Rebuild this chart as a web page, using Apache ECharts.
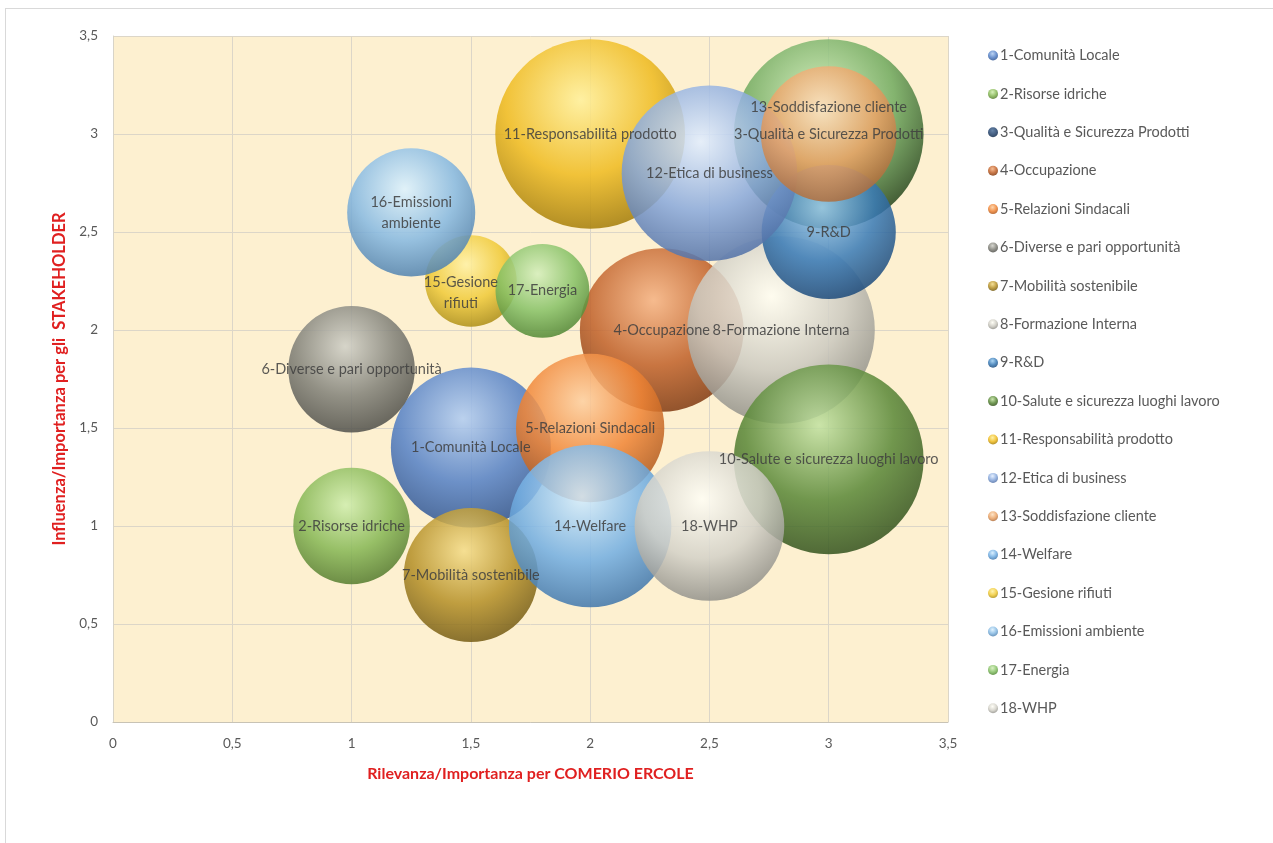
<!DOCTYPE html>
<html>
<head>
<meta charset="utf-8">
<script src="https://cdn.jsdelivr.net/npm/echarts@6/dist/echarts.min.js"></script>
<style>
html,body{margin:0;padding:0;background:#fff;}
#frame{position:absolute;left:5px;top:8px;width:1280px;height:850px;border-top:1px solid #d9d9d9;border-left:1px solid #d9d9d9;}
#chart{position:absolute;left:0;top:0;width:1273px;height:843px;}
</style>
</head>
<body>
<div id="frame"></div>
<div id="chart"></div>
<script>
// Topics
const names = [
  '1-Comunità Locale','2-Risorse idriche','3-Qualità e Sicurezza Prodotti','4-Occupazione',
  '5-Relazioni Sindacali','6-Diverse e pari opportunità','7-Mobilità sostenibile','8-Formazione Interna',
  '9-R&D','10-Salute e sicurezza luoghi lavoro','11-Responsabilità prodotto','12-Etica di business',
  '13-Soddisfazione cliente','14-Welfare','15-Gesione rifiuti','16-Emissioni ambiente','17-Energia','18-WHP'
];
const labelNames = [
  '1-Comunità Locale','2-Risorse idriche','3-Qualità e Sicurezza Prodotti','4-Occupazione',
  '5-Relazioni Sindacali','6-Diverse e pari opportunità','7-Mobilità sostenibile','8-Formazione Interna',
  '9-R&D','10-Salute e sicurezza luoghi lavoro','11-Responsabilità prodotto','12-Etica di business',
  '13-Soddisfazione cliente','14-Welfare','15-Gesione\nrifiuti','16-Emissioni\nambiente','17-Energia','18-WHP'
];
// Rilevanza per COMERIO ERCOLE (x)
const rilevanza = [1.5, 1, 3, 2.3, 2, 1, 1.5, 2.8, 3, 3, 2, 2.5, 3, 2, 1.5, 1.25, 1.8, 2.5];
// Influenza per gli STAKEHOLDER (y)
const influenza = [1.4, 1, 3, 2, 1.5, 1.8, 0.75, 2, 2.5, 1.34, 3, 2.8, 3, 1, 2.25, 2.6, 2.2, 1];
// Bubble size values
const sizes = [64, 34, 90, 67, 55, 40, 45, 88, 45, 90, 90, 77, 46, 66, 21, 41, 22, 56];
// Tick labels
const ticks = [0, 0.5, 1, 1.5, 2, 2.5, 3, 3.5];

const palette = [
  ['#b0ccf2','#5581c6','#2b4f8a'], // 1
  ['#d0eeae','#86b755','#4f752a'], // 2
  ['#4d6f99','#27466f','#132a48'], // 3 (legend)
  ['#f5b283','#c0612a','#7a360f'], // 4
  ['#fdcfa0','#f08536','#a55118'], // 5
  ['#d0d0c8','#818179','#4a4a45'], // 6
  ['#f4dc88','#b59028','#6e5612'], // 7
  ['#fffef4','#cbc9c0','#87867f'], // 8
  ['#9fcff2','#3a7bb6','#1a4574'], // 9
  ['#c2e2a2','#5a8838','#304d1b'], // 10
  ['#fff09a','#efbb20','#9c7606'], // 11
  ['#e2eeff','#89a9dc','#4d6ca2'], // 12
  ['#fde0bf','#eaa366','#a66637'], // 13
  ['#d5eeff','#72aee2','#3b70a5'], // 14
  ['#fff1a4','#f0ca38','#a58712'], // 15
  ['#dcf2ff','#86b9e2','#4b7ca9'], // 16
  ['#d5efbc','#86c166','#4b812f'], // 17
  ['#fffef6','#d3d1c8','#8a8983']  // 18
];
const bubble3Colors = ['#cdeebb','#70aa5f','#1a3612'];

function grad(c){
  return {type:'radial', x:0.45, y:0.32, r:0.72,
    colorStops:[{offset:0,color:c[0]},{offset:0.55,color:c[1]},{offset:1,color:c[2]}]};
}
const fmt = v => String(v).replace('.', ',');

const labelOffsets = {12:[0,-27], 14:[-10,12]};

const series = names.map((n,i)=>{
  const item = {value:[rilevanza[i], influenza[i], sizes[i]]};
  if(i===2){ item.itemStyle = {color: grad(bubble3Colors)}; }
  return {
    name:n, type:'scatter',
    data:[item],
    symbolSize: d => Math.sqrt(d[2]) * 20,
    itemStyle:{color:grad(palette[i]), opacity:0.86},
    label:{show:true, position:'inside', formatter: labelNames[i], color:'#3f3f3f',
      fontFamily:'Lato', fontSize:14.5, lineHeight:21, offset: labelOffsets[i] || [0,0]},
    emphasis:{disabled:true},
    z: 2
  };
});

const chart = echarts.init(document.getElementById('chart'), null, {renderer:'canvas'});
chart.setOption({
  animation:false,
  backgroundColor:'transparent',
  grid:{left:113, top:36, right:325, bottom:121, show:true, backgroundColor:'#fdf0d0', borderWidth:0},
  legend:{
    orient:'vertical', left:983, top:43,
    itemWidth:10, itemHeight:10, itemGap:23.4, icon:'circle',
    textStyle:{color:'#595959', fontFamily:'Lato', fontSize:14.5, lineHeight:15, padding:[0,0,0,-3]},
    data:names
  },
  xAxis:{
    type:'value', min:ticks[0], max:ticks[ticks.length-1], interval:0.5,
    name:'Rilevanza/Importanza per COMERIO ERCOLE', nameLocation:'middle', nameGap:44,
    nameTextStyle:{color:'#e02020', fontWeight:'bold', fontSize:16, fontFamily:'Lato'},
    axisLine:{show:true, lineStyle:{color:'#c8c3b5'}},
    axisTick:{show:false},
    axisLabel:{color:'#595959', fontSize:13.5, fontFamily:'Lato', margin:15, formatter:fmt},
    splitLine:{show:true, lineStyle:{color:'#dcd6c8'}}
  },
  yAxis:{
    type:'value', min:ticks[0], max:ticks[ticks.length-1], interval:0.5,
    name:'Influenza/Importanza per gli  STAKEHOLDER', nameLocation:'middle', nameGap:42,
    nameTextStyle:{color:'#e02020', fontWeight:'bold', fontSize:16.5, fontFamily:'Lato'},
    axisLine:{show:true, lineStyle:{color:'#d8d4c8'}},
    axisTick:{show:false},
    axisLabel:{color:'#595959', fontSize:13.5, fontFamily:'Lato', margin:15, formatter:fmt},
    splitLine:{show:true, lineStyle:{color:'#dcd6c8'}}
  },
  series: series
});
</script>
</body>
</html>
